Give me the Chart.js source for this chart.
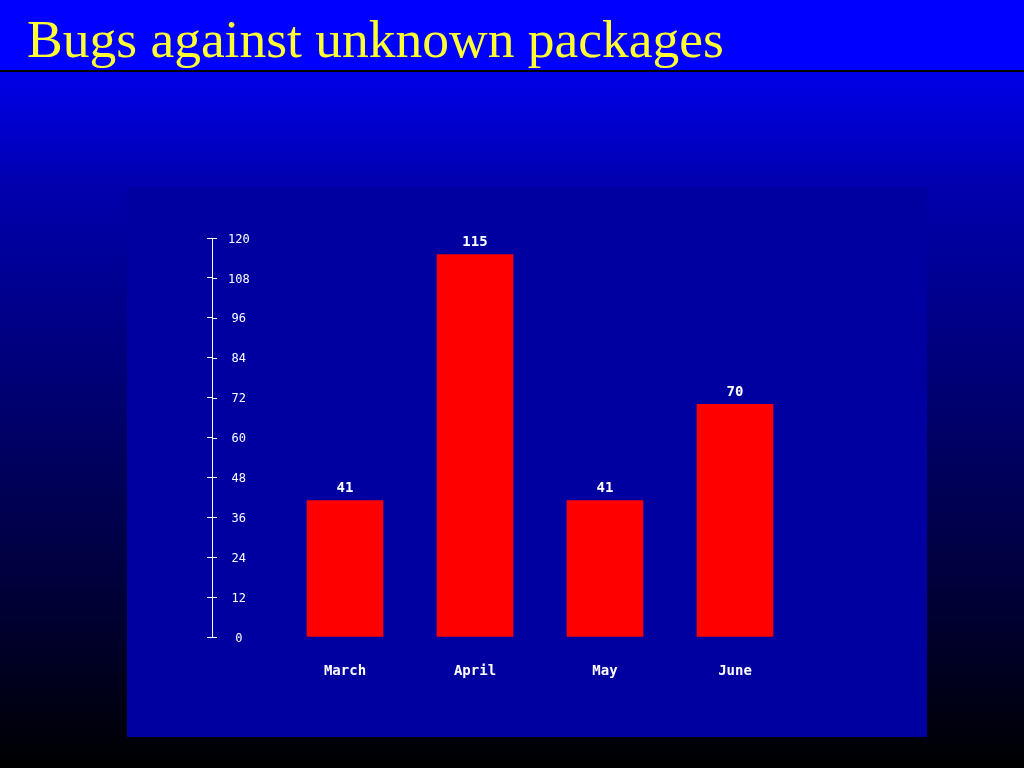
<!DOCTYPE html>
<html>
<head>
<meta charset="utf-8">
<title>Bugs against unknown packages</title>
<script src="https://cdn.jsdelivr.net/npm/chart.js@4.4.1/dist/chart.umd.min.js"></script>
<style>
  html, body { margin: 0; padding: 0; background: #000; }
  #wrap { width: 1024px; height: 768px; }
</style>
</head>
<body>
<div id="wrap"><canvas id="bugChart" width="1024" height="768"></canvas></div>
<script>
// --- data ---
const chartTitle = 'Bugs against unknown packages';
const months = ['March', 'April', 'May', 'June'];
const bugCounts = [41, 115, 41, 70];
const yTickValues = [0, 12, 24, 36, 48, 60, 72, 84, 96, 108, 120];

const MONO = '"DejaVu Sans Mono", monospace';

// background: gradient, title bar, dark panel
const backdrop = {
  id: 'backdrop',
  beforeDraw(chart) {
    const { ctx, width, height } = chart;
    ctx.save();
    const g = ctx.createLinearGradient(0, 72, 0, height);
    g.addColorStop(0, '#0000e8');
    g.addColorStop(0.17, '#0000ac');
    g.addColorStop(0.47, '#000070');
    g.addColorStop(0.79, '#000030');
    g.addColorStop(1, '#000000');
    ctx.fillStyle = g;
    ctx.fillRect(0, 72, width, height - 72);
    ctx.fillStyle = '#0000ff';
    ctx.fillRect(0, 0, width, 70);
    ctx.fillStyle = '#000000';
    ctx.fillRect(0, 70, width, 2);
    ctx.fillStyle = '#0000a0';
    ctx.fillRect(127, 187, 800, 550);
    ctx.restore();
  }
};

// right half of the y tick marks + numbers above bars
const extras = {
  id: 'extras',
  afterDatasetsDraw(chart) {
    const { ctx } = chart;
    const y = chart.scales.y;
    ctx.save();
    ctx.strokeStyle = '#ffffff';
    ctx.lineWidth = 1;
    ctx.beginPath();
    y.ticks.forEach((t, i) => {
      const py = Math.round(y.getPixelForTick(i)) + 0.5;
      ctx.moveTo(y.right, py);
      ctx.lineTo(y.right + 5, py);
    });
    ctx.stroke();

    ctx.font = 'bold 14px ' + MONO;
    ctx.fillStyle = '#ffffff';
    ctx.textAlign = 'center';
    ctx.textBaseline = 'middle';
    chart.getDatasetMeta(0).data.forEach((bar, i) => {
      ctx.fillText(String(bugCounts[i]), bar.x, bar.y - 12);
    });
    ctx.restore();
  }
};

new Chart(document.getElementById('bugChart'), {
  type: 'bar',
  data: {
    datasets: [{
      data: bugCounts.map((v, i) => ({ x: i, y: v })),
      backgroundColor: '#ff0000',
      borderWidth: 0,
      barThickness: 76
    }]
  },
  options: {
    responsive: false,
    animation: false,
    layout: { padding: { left: 27, right: 159, top: 0, bottom: 0 } },
    plugins: {
      legend: { display: false },
      tooltip: { enabled: false },
      title: {
        display: true,
        text: chartTitle,
        align: 'start',
        color: '#ffff33',
        font: { family: '"Liberation Serif", serif', size: 53.5, weight: 'normal', lineHeight: 1 },
        padding: { top: 16, bottom: 168.5 }
      }
    },
    scales: {
      x: {
        type: 'linear',
        offset: false,
        min: -1.0231,
        max: 4,
        grid: { display: false },
        border: { display: false },
        afterFit: s => { s.height = 131; },
        afterBuildTicks: s => { s.ticks = months.map((m, i) => ({ value: i })); },
        ticks: {
          color: '#ffffff',
          font: { family: MONO, size: 14, weight: 'bold' },
          padding: 18,
          autoSkip: false,
          maxRotation: 0,
          callback: v => months[v]
        }
      },
      y: {
        min: 0,
        max: 120,
        afterFit: s => { s.width = 185; },
        afterBuildTicks: s => { s.ticks = yTickValues.map(v => ({ value: v })); },
        border: { color: '#ffffff', width: 1 },
        grid: { drawOnChartArea: false, color: '#ffffff', tickLength: 5 },
        ticks: {
          mirror: true,
          crossAlign: 'center',
          padding: 16,
          labelOffset: 1.5,
          color: '#ffffff',
          font: { family: MONO, size: 12 }
        }
      }
    }
  },
  plugins: [backdrop, extras]
});
</script>
</body>
</html>
